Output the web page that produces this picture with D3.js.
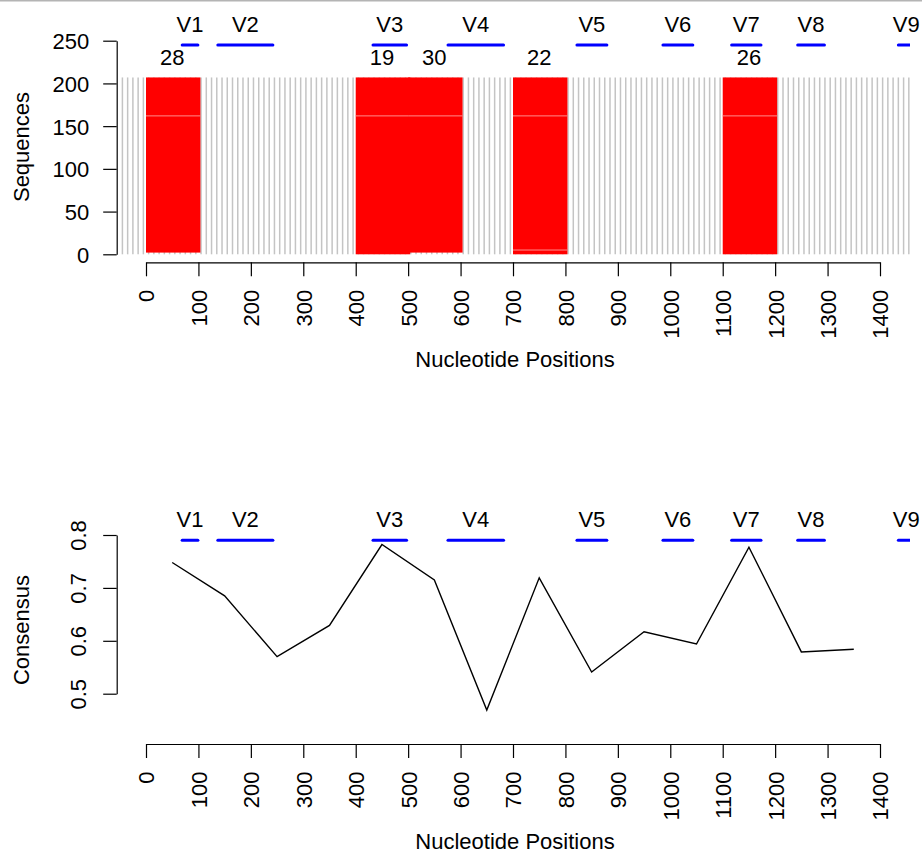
<!DOCTYPE html>
<html>
<head>
<meta charset="utf-8">
<script src="https://cdn.jsdelivr.net/npm/d3@7"></script>
<style>
  html, body { margin: 0; padding: 0; background: #fff; }
  svg text { font-family: "Liberation Sans", Arial, Helvetica, sans-serif; fill: #000; }
</style>
</head>
<body>
<svg id="chart" width="922" height="853"></svg>
<script>
// ---------- data ----------
const regionNames  = ["V1","V2","V3","V4","V5","V6","V7","V8","V9"];
const regionStarts = [69, 137, 433, 576, 822, 986, 1117, 1243, 1435];
const regionEnds   = [99, 242, 497, 682, 879, 1043, 1173, 1294, 1465];

const gridPositions = d3.range(-45, 1456, 10);   // gray sequence columns
const sequenceCount = 207;

const windowStarts = [0, 400, 500, 700, 1100];
const windowEnds   = [100, 500, 600, 800, 1200];
const windowLows   = [2, 0, 2, 0, 0];
const windowSeams  = [[162], [162], [162], [5, 162], [162]];
const windowLabels = [28, 19, 30, 22, 26];

const consensusPos = [50,150,250,350,450,550,650,750,850,950,1050,1150,1250,1350];
const consensusVal = [0.748,0.685,0.570,0.629,0.782,0.715,0.469,0.719,0.541,0.617,0.594,0.777,0.579,0.584];

const xTicks = [0,100,200,300,400,500,600,700,800,900,1000,1100,1200,1300,1400];
const seqTicks = [0,50,100,150,200,250];
const consTicks = [0.5,0.6,0.7,0.8];

// ---------- setup ----------
const svg = d3.select("#chart");
const FS = 22;

svg.append("line").attr("x1",0).attr("x2",922).attr("y1",0.75).attr("y2",0.75)
  .attr("stroke","#b4b4b4").attr("stroke-width",1.5);

const x = d3.scaleLinear().domain([0,1400]).range([146,880]);
const ySeq = d3.scaleLinear().domain([0,250]).range([254.3,40.7]);
const yCon = d3.scaleLinear().domain([0.5,0.8]).range([693.7,535]);

svg.append("defs").append("clipPath").attr("id","plotclip")
  .append("rect").attr("x",100).attr("y",0).attr("width",810).attr("height",853);

function styleAxis(g){
  g.selectAll("path,line").attr("stroke","#000").attr("stroke-width",1.2).attr("shape-rendering","auto");
  g.selectAll("text").attr("font-size",FS).attr("fill","#000")
    .style("font-family",'"Liberation Sans", Arial, sans-serif');
}

function xAxis(axisY, titleY){
  const g = svg.append("g").attr("transform",`translate(0,${axisY})`)
    .call(d3.axisBottom(x).tickValues(xTicks).tickFormat(d3.format("d")).tickSize(14).tickSizeOuter(0));
  g.call(styleAxis);
  g.selectAll(".tick text")
    .attr("transform","rotate(-90)")
    .attr("x",-27.5).attr("y",0).attr("dy","0.36em")
    .attr("text-anchor","end");
  svg.append("text").attr("x",515).attr("y",titleY).attr("text-anchor","middle")
    .attr("font-size",FS).text("Nucleotide Positions");
}

function regions(lineY, labelY){
  const g = svg.append("g").attr("clip-path","url(#plotclip)");
  g.selectAll("line").data(regionNames).enter().append("line")
    .attr("x1",(d,i)=>x(regionStarts[i])).attr("x2",(d,i)=>x(regionEnds[i]))
    .attr("y1",lineY).attr("y2",lineY)
    .attr("stroke","#0000ff").attr("stroke-width",3).attr("stroke-linecap","round");
  svg.append("g").selectAll("text").data(regionNames).enter().append("text")
    .attr("x",(d,i)=>x((regionStarts[i]+regionEnds[i])/2))
    .attr("y",labelY).attr("text-anchor","middle").attr("font-size",FS)
    .text(d=>d);
}

// ---------- top chart ----------
svg.append("g").selectAll("line").data(gridPositions).enter().append("line")
  .attr("x1",d=>x(d)).attr("x2",d=>x(d))
  .attr("y1",ySeq(0)).attr("y2",ySeq(sequenceCount))
  .attr("stroke","#c4c4c4").attr("stroke-width",1.5);

const win = svg.append("g");
windowStarts.forEach((s,i)=>{
  win.append("rect")
    .attr("x",x(s)).attr("width",x(windowEnds[i])-x(s)+2)
    .attr("y",ySeq(sequenceCount)).attr("height",ySeq(windowLows[i])-ySeq(sequenceCount))
    .attr("fill","#ff0000");
  windowSeams[i].forEach(v=>{
    win.append("line")
      .attr("x1",x(s)).attr("x2",x(windowEnds[i])+2)
      .attr("y1",ySeq(v)).attr("y2",ySeq(v))
      .attr("stroke","#ff8c8c").attr("stroke-width",1);
  });
});
svg.append("g").selectAll("text").data(windowLabels).enter().append("text")
  .attr("x",(d,i)=>x((windowStarts[i]+windowEnds[i])/2))
  .attr("y",65).attr("text-anchor","middle").attr("font-size",FS)
  .text(d=>d);

const ySeqAxis = svg.append("g").attr("transform","translate(116.7,0)")
  .call(d3.axisLeft(ySeq).tickValues(seqTicks).tickSize(13.5).tickSizeOuter(0).tickPadding(14));
ySeqAxis.call(styleAxis);
ySeqAxis.selectAll(".tick text").attr("dy","0.36em");

svg.append("text").attr("transform","translate(28.5,147) rotate(-90)")
  .attr("text-anchor","middle").attr("font-size",FS).text("Sequences");

regions(45, 32.3);
xAxis(262.3, 367);

// ---------- bottom chart ----------
regions(540.3, 526.7);

svg.append("path").datum(consensusPos)
  .attr("fill","none").attr("stroke","#000").attr("stroke-width",1.4)
  .attr("d", d3.line().x(d=>x(d)).y((d,i)=>yCon(consensusVal[i])));

const yConAxis = svg.append("g").attr("transform","translate(116.7,0)")
  .call(d3.axisLeft(yCon).tickValues(consTicks).tickFormat(d3.format(".1f")).tickSize(13.5).tickSizeOuter(0));
yConAxis.call(styleAxis);
yConAxis.selectAll(".tick text")
  .attr("transform","rotate(-90)")
  .attr("x",0).attr("y",-31).attr("dy",0)
  .attr("text-anchor","middle");

svg.append("text").attr("transform","translate(28.5,630) rotate(-90)")
  .attr("text-anchor","middle").attr("font-size",FS).text("Consensus");

xAxis(744, 848.5);
</script>
</body>
</html>
